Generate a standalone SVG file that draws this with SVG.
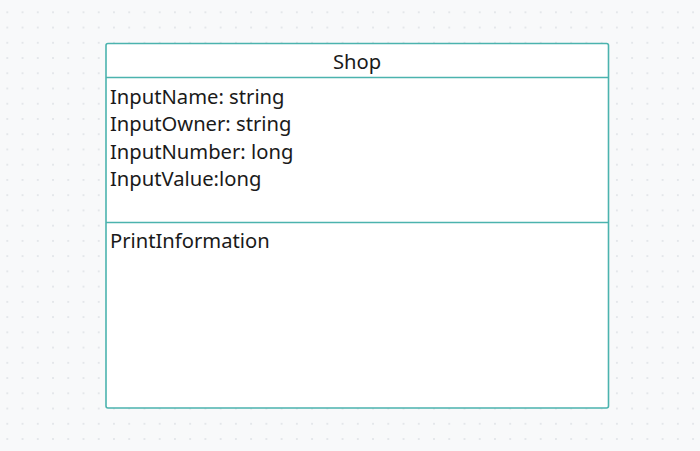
<svg xmlns="http://www.w3.org/2000/svg" width="700" height="451" viewBox="0 0 700 451">
<defs>
<pattern id="dots" x="7.3" y="12.3" width="15.24" height="15.24" patternUnits="userSpaceOnUse">
<circle cx="0" cy="0" r="1" fill="#dfe2e6"/>
<circle cx="15.24" cy="0" r="1" fill="#dfe2e6"/>
<circle cx="0" cy="15.24" r="1" fill="#dfe2e6"/>
<circle cx="15.24" cy="15.24" r="1" fill="#dfe2e6"/>
</pattern>
<style>
.t{font-family:"Noto Sans","Open Sans",sans-serif;font-size:20.2px;fill:#1a1a1a}
.ln{stroke:#4bb3ae;stroke-width:1.6;fill:none}
.box{stroke:#4bb3ae;stroke-width:1.6;fill:#ffffff}
</style>
</defs>
<rect width="700" height="451" fill="#f8f9fa"/>
<rect width="700" height="451" fill="url(#dots)"/>
<g id="shop">
<rect x="106" y="43.5" width="502.5" height="364.5" rx="2" class="box"/>
<line x1="106" y1="77.5" x2="608.5" y2="77.5" class="ln"/>
<line x1="106" y1="222.5" x2="608.5" y2="222.5" class="ln"/>
<text class="t" x="357" y="68.5" text-anchor="middle">Shop</text>
<text class="t" x="110" y="103.5">InputName: string</text>
<text class="t" x="110" y="131">InputOwner: string</text>
<text class="t" x="110" y="158.5">InputNumber: long</text>
<text class="t" x="110" y="186">InputValue:long</text>
<text class="t" x="110" y="248">PrintInformation</text>
</g>
<g id="connectors"></g>
</svg>
